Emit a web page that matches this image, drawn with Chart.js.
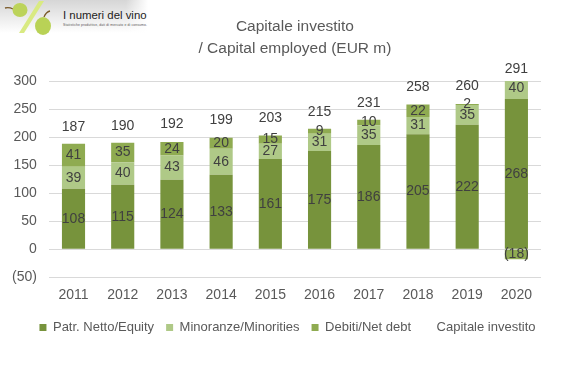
<!DOCTYPE html>
<html>
<head>
<meta charset="utf-8">
<script src="https://cdn.jsdelivr.net/npm/chart.js@4"></script>
<style>
  html, body { margin: 0; padding: 0; background: #fff; }
  #wrap { position: relative; width: 573px; height: 376px; }
  #logo { position: absolute; left: 0; top: 0; }
</style>
</head>
<body>
<div id="wrap">
  <canvas id="chart" width="573" height="376"></canvas>
  <svg id="logo" width="150" height="36" viewBox="0 0 150 36">
    <defs>
      <linearGradient id="bg" x1="0" y1="0" x2="0" y2="1">
        <stop offset="0" stop-color="#d6d6d6"/>
        <stop offset="1" stop-color="#ffffff"/>
      </linearGradient>
      <linearGradient id="fade" x1="0" y1="0" x2="1" y2="0">
        <stop offset="0.85" stop-color="#fff" stop-opacity="0"/>
        <stop offset="1" stop-color="#fff" stop-opacity="1"/>
      </linearGradient>
    </defs>
    <rect x="0" y="0" width="148" height="33" fill="url(#bg)"/>
    <rect x="0" y="0" width="148" height="33" fill="url(#fade)"/>
    <path d="M5 8 Q9 7 13 9" stroke="#7a5a2a" stroke-width="1.3" fill="none"/>
    <ellipse cx="20" cy="10" rx="7.5" ry="7" fill="#bcd35a"/>
    <polygon points="39,1 44,1 24,33 19,33" fill="#d9ea82"/>
    <path d="M44 17 Q46 12 50 11" stroke="#7a5a2a" stroke-width="1.3" fill="none"/>
    <ellipse cx="43" cy="26" rx="8" ry="9" fill="#b9d256"/>
    <text x="63" y="19" font-family="Liberation Sans, Arial, sans-serif" font-size="11.4" fill="#222">I numeri del vino</text>
    <text x="63" y="26" font-family="Liberation Sans, Arial, sans-serif" font-size="3.4" fill="#555" textLength="84">Statistiche produttive, dati di mercato e di consumo.</text>
  </svg>
</div>
<script>
const years = ["2011", "2012", "2013", "2014", "2015", "2016", "2017", "2018", "2019", "2020"];
const equity = [108, 115, 124, 133, 161, 175, 186, 205, 222, 268];
const minorities = [39, 40, 43, 46, 27, 31, 35, 31, 35, 40];
const netDebt = [41, 35, 24, 20, 15, 9, 10, 22, 2, -18];
const capitalEmployed = [187, 190, 192, 199, 203, 215, 231, 258, 260, 291];

const FONT = '"Liberation Sans", Arial, sans-serif';
const fmt = (v) => (v < 0 ? "(" + Math.abs(v) + ")" : String(v));

// value labels: segment centres for bars, above the point for the total
const segLabels = {
  id: "segLabels",
  afterLayout(chart) {
    // nudge the legend row to the right, like the original
    chart.legend.left += 17;
    chart.legend.right += 17;
  },
  afterDatasetsDraw(chart) {
    const ctx = chart.ctx;
    ctx.save();
    ctx.font = "14px " + FONT;
    ctx.fillStyle = "#404040";
    ctx.textAlign = "center";
    ctx.textBaseline = "middle";
    chart.data.datasets.forEach((ds, i) => {
      const meta = chart.getDatasetMeta(i);
      meta.data.forEach((el, j) => {
        const v = ds.data[j];
        if (ds.type === "line") {
          ctx.fillText(fmt(v), el.x, el.y - 17);
        } else {
          ctx.fillText(fmt(v), el.x, (el.y + el.base) / 2);
        }
      });
    });
    ctx.restore();
  },
};

const canvas = document.getElementById("chart");
new Chart(canvas.getContext("2d"), {
  type: "bar",
  data: {
    labels: years,
    datasets: [
      { label: "Patr. Netto/Equity", data: equity, backgroundColor: "#77933C" },
      { label: "Minoranze/Minorities", data: minorities, backgroundColor: "#AFC987" },
      { label: "Debiti/Net debt", data: netDebt, backgroundColor: "#8FAB51" },
      {
        type: "line",
        label: "Capitale investito",
        data: capitalEmployed,
        stack: "total",
        showLine: false,
        pointRadius: 0,
        backgroundColor: "rgba(0,0,0,0)",
        borderColor: "rgba(0,0,0,0)",
      },
    ],
  },
  options: {
    responsive: false,
    animation: false,
    datasets: {
      bar: { categoryPercentage: 1, barPercentage: 0.47 },
    },
    layout: { padding: { left: 0, right: 32, bottom: 32 } },
    plugins: {
      tooltip: { enabled: false },
      title: {
        display: true,
        fullSize: false,
        text: ["Capitale investito", "/ Capital employed (EUR m)"],
        color: "#595959",
        font: { family: FONT, size: 15.5, weight: "normal", lineHeight: 1.42 },
        padding: { top: 16, bottom: 21 },
      },
      legend: {
        position: "bottom",
        labels: {
          boxWidth: 7,
          boxHeight: 7,
          padding: 12,
          color: "#595959",
          font: { family: FONT, size: 13 },
          generateLabels(chart) {
            const items = Chart.defaults.plugins.legend.labels.generateLabels(chart);
            items.forEach((it) => {
              it.lineWidth = 0;
              if (chart.data.datasets[it.datasetIndex].type === "line") {
                it.fillStyle = "rgba(0,0,0,0)";
                it.strokeStyle = "rgba(0,0,0,0)";
              }
            });
            return items;
          },
        },
      },
    },
    scales: {
      x: {
        stacked: true,
        grid: { display: false },
        border: { display: false },
        ticks: { color: "#595959", padding: 2, font: { family: FONT, size: 14 } },
        afterFit(scale) {
          scale.height += 3;
        },
      },
      y: {
        stacked: true,
        min: -50,
        max: 300,
        grid: { color: "#D9D9D9", drawTicks: false },
        border: { display: false },
        ticks: {
          stepSize: 50,
          padding: 12,
          color: "#595959",
          font: { family: FONT, size: 14 },
          callback: (v) => fmt(v),
        },
      },
    },
  },
  plugins: [segLabels],
});
</script>
</body>
</html>
